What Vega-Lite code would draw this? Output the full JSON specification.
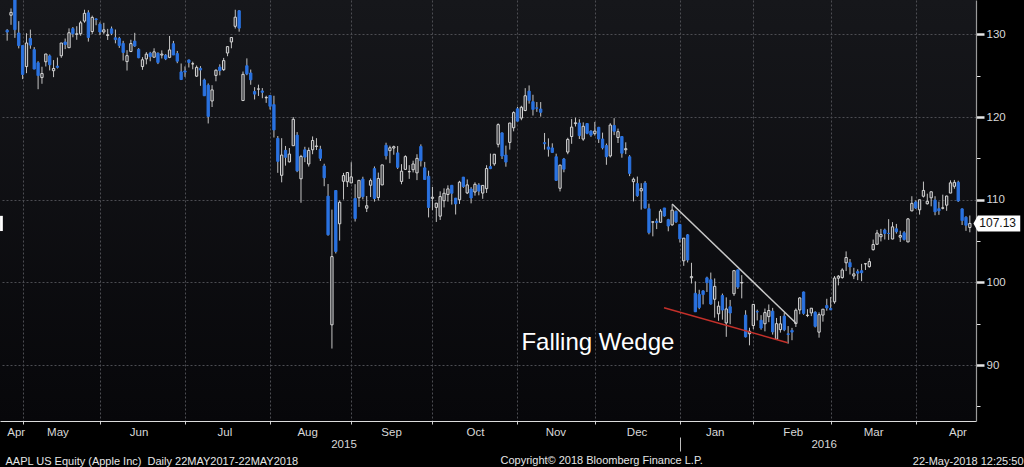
{
  "$schema": "https://vega.github.io/schema/vega-lite/v6.json",
  "width": 976,
  "height": 421,
  "padding": {"left": 0, "top": 0, "right": 48, "bottom": 46},
  "autosize": {"type": "none"},
  "background": "#000000",
  "config": {
    "view": {"stroke": null, "fill": {"gradient": "linear", "x1": 0, "y1": 0, "x2": 0, "y2": 1, "stops": [{"offset": 0, "color": "#16171b"}, {"offset": 1, "color": "#07070a"}]}},
    "font": "Liberation Sans"
  },
  "datasets": {
    "candles": [
{"i":0,"o":130.49,"h":130.63,"l":129.23,"c":130.28},
{"i":1,"o":132.31,"h":133.13,"l":131.15,"c":132.65},
{"i":2,"o":134.46,"h":134.54,"l":129.57,"c":130.56},
{"i":3,"o":130.16,"h":131.59,"l":128.30,"c":128.64},
{"i":4,"o":128.64,"h":128.64,"l":124.58,"c":125.15},
{"i":5,"o":126.10,"h":130.13,"l":125.30,"c":128.95},
{"i":6,"o":129.50,"h":130.57,"l":128.26,"c":128.70},
{"i":7,"o":128.15,"h":128.45,"l":125.78,"c":125.80},
{"i":8,"o":126.56,"h":126.75,"l":123.36,"c":125.01},
{"i":9,"o":124.77,"h":126.08,"l":124.02,"c":125.26},
{"i":10,"o":126.68,"h":127.62,"l":126.11,"c":127.62},
{"i":11,"o":127.39,"h":127.56,"l":125.63,"c":126.32},
{"i":12,"o":125.60,"h":126.88,"l":124.82,"c":125.87},
{"i":13,"o":126.15,"h":127.19,"l":125.87,"c":126.01},
{"i":14,"o":127.41,"h":128.95,"l":127.16,"c":128.95},
{"i":15,"o":129.07,"h":129.49,"l":128.21,"c":128.77},
{"i":16,"o":128.38,"h":130.72,"l":128.36,"c":130.19},
{"i":17,"o":130.69,"h":130.88,"l":129.64,"c":130.07},
{"i":18,"o":130.00,"h":130.98,"l":129.34,"c":130.06},
{"i":19,"o":130.07,"h":131.63,"l":129.83,"c":131.39},
{"i":20,"o":131.60,"h":132.97,"l":131.40,"c":132.54},
{"i":21,"o":132.60,"h":132.91,"l":129.12,"c":129.62},
{"i":22,"o":130.34,"h":132.26,"l":130.05,"c":132.04},
{"i":23,"o":131.86,"h":131.95,"l":131.10,"c":131.78},
{"i":24,"o":131.23,"h":131.45,"l":129.90,"c":130.28},
{"i":25,"o":130.28,"h":131.39,"l":130.05,"c":130.54},
{"i":26,"o":129.86,"h":130.66,"l":129.32,"c":129.96},
{"i":27,"o":130.66,"h":130.94,"l":129.90,"c":130.12},
{"i":28,"o":129.58,"h":130.58,"l":128.91,"c":129.36},
{"i":29,"o":129.50,"h":129.69,"l":128.36,"c":128.65},
{"i":30,"o":128.90,"h":129.21,"l":126.83,"c":127.80},
{"i":31,"o":126.70,"h":128.08,"l":125.62,"c":127.42},
{"i":32,"o":127.92,"h":129.34,"l":127.85,"c":128.88},
{"i":33,"o":129.18,"h":130.18,"l":128.48,"c":128.59},
{"i":34,"o":128.19,"h":128.33,"l":127.11,"c":127.17},
{"i":35,"o":126.10,"h":127.24,"l":125.71,"c":126.92},
{"i":36,"o":127.03,"h":127.85,"l":126.37,"c":127.60},
{"i":37,"o":127.72,"h":127.88,"l":126.74,"c":127.30},
{"i":38,"o":127.23,"h":128.31,"l":127.22,"c":127.88},
{"i":39,"o":127.71,"h":127.82,"l":126.40,"c":126.60},
{"i":40,"o":127.49,"h":128.06,"l":127.08,"c":127.61},
{"i":41,"o":127.48,"h":127.61,"l":126.88,"c":127.03},
{"i":42,"o":127.21,"h":129.80,"l":127.12,"c":128.11},
{"i":43,"o":128.86,"h":129.20,"l":127.50,"c":127.50},
{"i":44,"o":127.67,"h":127.99,"l":126.51,"c":126.75},
{"i":45,"o":125.46,"h":126.47,"l":124.48,"c":124.53},
{"i":46,"o":125.57,"h":126.12,"l":124.86,"c":125.43},
{"i":47,"o":126.90,"h":126.94,"l":125.99,"c":126.60},
{"i":48,"o":126.43,"h":126.69,"l":125.77,"c":126.44},
{"i":49,"o":124.94,"h":126.23,"l":124.85,"c":126.00},
{"i":50,"o":125.89,"h":126.15,"l":123.77,"c":125.69},
{"i":51,"o":124.48,"h":124.64,"l":122.54,"c":122.57},
{"i":52,"o":123.85,"h":124.06,"l":119.22,"c":120.07},
{"i":53,"o":121.94,"h":123.85,"l":121.21,"c":123.28},
{"i":54,"o":125.03,"h":125.76,"l":124.32,"c":125.66},
{"i":55,"o":126.04,"h":126.37,"l":125.04,"c":125.61},
{"i":56,"o":125.72,"h":127.15,"l":125.58,"c":126.82},
{"i":57,"o":127.74,"h":128.57,"l":127.35,"c":128.51},
{"i":58,"o":129.08,"h":129.62,"l":128.31,"c":129.62},
{"i":59,"o":130.97,"h":132.97,"l":130.70,"c":132.07},
{"i":60,"o":132.85,"h":132.92,"l":130.32,"c":130.75},
{"i":61,"o":121.99,"h":125.50,"l":121.99,"c":125.16},
{"i":62,"o":126.20,"h":127.09,"l":125.06,"c":125.22},
{"i":63,"o":125.32,"h":125.74,"l":123.90,"c":124.50},
{"i":64,"o":123.09,"h":123.61,"l":122.12,"c":122.77},
{"i":65,"o":123.38,"h":123.91,"l":122.55,"c":123.38},
{"i":66,"o":123.15,"h":123.50,"l":122.27,"c":122.99},
{"i":67,"o":122.32,"h":122.57,"l":121.71,"c":122.37},
{"i":68,"o":122.60,"h":122.64,"l":120.91,"c":121.30},
{"i":69,"o":121.50,"h":122.57,"l":117.52,"c":118.44},
{"i":70,"o":117.42,"h":117.70,"l":113.25,"c":114.64},
{"i":71,"o":112.95,"h":117.44,"l":112.10,"c":115.40},
{"i":72,"o":115.97,"h":116.50,"l":114.12,"c":115.13},
{"i":73,"o":114.58,"h":116.25,"l":114.50,"c":115.52},
{"i":74,"o":116.53,"h":119.99,"l":116.53,"c":119.72},
{"i":75,"o":117.81,"h":118.18,"l":113.33,"c":113.49},
{"i":76,"o":112.53,"h":115.42,"l":109.63,"c":115.24},
{"i":77,"o":116.04,"h":116.40,"l":114.54,"c":115.15},
{"i":78,"o":114.32,"h":116.31,"l":114.01,"c":115.96},
{"i":79,"o":116.04,"h":117.65,"l":115.50,"c":117.16},
{"i":80,"o":116.43,"h":117.44,"l":116.01,"c":116.50},
{"i":81,"o":116.10,"h":116.52,"l":114.68,"c":115.01},
{"i":82,"o":114.08,"h":114.35,"l":111.63,"c":112.65},
{"i":83,"o":110.43,"h":111.90,"l":105.65,"c":105.76},
{"i":84,"o":94.87,"h":108.80,"l":92.00,"c":103.12},
{"i":85,"o":111.11,"h":111.11,"l":103.50,"c":103.74},
{"i":86,"o":107.09,"h":109.89,"l":105.05,"c":109.69},
{"i":87,"o":112.23,"h":113.24,"l":110.02,"c":112.92},
{"i":88,"o":112.17,"h":113.31,"l":111.54,"c":113.29},
{"i":89,"o":112.03,"h":114.53,"l":112.00,"c":112.76},
{"i":90,"o":110.15,"h":111.88,"l":107.36,"c":107.72},
{"i":91,"o":110.23,"h":112.34,"l":109.13,"c":112.34},
{"i":92,"o":112.49,"h":112.78,"l":110.04,"c":110.37},
{"i":93,"o":108.97,"h":110.45,"l":108.51,"c":109.27},
{"i":94,"o":111.75,"h":112.56,"l":110.32,"c":112.31},
{"i":95,"o":113.76,"h":114.02,"l":109.77,"c":110.15},
{"i":96,"o":110.27,"h":113.28,"l":109.90,"c":112.57},
{"i":97,"o":111.79,"h":114.21,"l":111.76,"c":114.21},
{"i":98,"o":116.58,"h":116.89,"l":114.86,"c":115.31},
{"i":99,"o":115.93,"h":116.53,"l":114.42,"c":116.28},
{"i":100,"o":116.25,"h":116.54,"l":115.44,"c":116.41},
{"i":101,"o":115.66,"h":116.49,"l":113.72,"c":113.92},
{"i":102,"o":112.21,"h":114.30,"l":111.87,"c":113.45},
{"i":103,"o":113.67,"h":115.37,"l":113.66,"c":115.21},
{"i":104,"o":113.38,"h":114.18,"l":112.52,"c":113.40},
{"i":105,"o":113.63,"h":114.72,"l":113.30,"c":114.32},
{"i":106,"o":113.25,"h":115.50,"l":112.37,"c":115.00},
{"i":107,"o":116.44,"h":116.69,"l":114.02,"c":114.71},
{"i":108,"o":113.85,"h":114.57,"l":112.44,"c":112.44},
{"i":109,"o":112.83,"h":113.51,"l":107.86,"c":109.06},
{"i":110,"o":110.17,"h":111.54,"l":108.73,"c":110.30},
{"i":111,"o":109.07,"h":109.62,"l":107.31,"c":109.58},
{"i":112,"o":108.01,"h":111.01,"l":107.55,"c":110.38},
{"i":113,"o":109.88,"h":111.37,"l":109.07,"c":110.78},
{"i":114,"o":110.63,"h":111.74,"l":109.77,"c":111.31},
{"i":115,"o":111.74,"h":111.77,"l":109.41,"c":110.78},
{"i":116,"o":110.19,"h":110.19,"l":108.21,"c":109.50},
{"i":117,"o":110.00,"h":112.28,"l":109.49,"c":112.12},
{"i":118,"o":112.73,"h":112.75,"l":111.44,"c":111.60},
{"i":119,"o":110.82,"h":112.45,"l":110.68,"c":111.79},
{"i":120,"o":111.29,"h":111.52,"l":109.56,"c":110.21},
{"i":121,"o":110.93,"h":112.10,"l":110.49,"c":111.86},
{"i":122,"o":111.78,"h":112.00,"l":110.53,"c":111.04},
{"i":123,"o":110.80,"h":111.75,"l":110.11,"c":111.73},
{"i":124,"o":111.34,"h":114.17,"l":110.82,"c":113.77},
{"i":125,"o":114.00,"h":115.58,"l":113.70,"c":113.76},
{"i":126,"o":114.33,"h":115.50,"l":114.10,"c":115.50},
{"i":127,"o":116.70,"h":119.23,"l":116.33,"c":119.08},
{"i":128,"o":118.08,"h":118.13,"l":114.92,"c":115.28},
{"i":129,"o":115.40,"h":116.54,"l":113.99,"c":114.55},
{"i":130,"o":116.93,"h":119.30,"l":116.06,"c":119.27},
{"i":131,"o":118.70,"h":120.69,"l":118.27,"c":120.53},
{"i":132,"o":120.99,"h":121.22,"l":119.45,"c":119.50},
{"i":133,"o":119.87,"h":121.36,"l":119.61,"c":121.18},
{"i":134,"o":120.79,"h":123.49,"l":120.70,"c":122.57},
{"i":135,"o":123.13,"h":123.82,"l":121.62,"c":122.00},
{"i":136,"o":121.85,"h":122.69,"l":120.18,"c":120.92},
{"i":137,"o":121.11,"h":121.81,"l":120.62,"c":121.06},
{"i":138,"o":120.96,"h":121.81,"l":120.05,"c":120.57},
{"i":139,"o":116.90,"h":118.07,"l":116.06,"c":116.77},
{"i":140,"o":116.37,"h":117.42,"l":115.21,"c":116.11},
{"i":141,"o":116.26,"h":116.82,"l":115.65,"c":115.72},
{"i":142,"o":115.20,"h":115.57,"l":112.27,"c":112.34},
{"i":143,"o":111.38,"h":114.24,"l":111.00,"c":114.18},
{"i":144,"o":114.92,"h":115.05,"l":113.32,"c":113.69},
{"i":145,"o":115.76,"h":117.49,"l":115.50,"c":117.29},
{"i":146,"o":117.64,"h":119.75,"l":116.76,"c":118.78},
{"i":147,"o":119.20,"h":119.92,"l":118.85,"c":119.30},
{"i":148,"o":119.27,"h":119.73,"l":117.34,"c":117.75},
{"i":149,"o":117.33,"h":119.35,"l":117.12,"c":118.88},
{"i":150,"o":119.21,"h":119.23,"l":117.92,"c":118.03},
{"i":151,"o":118.29,"h":118.41,"l":117.60,"c":117.81},
{"i":152,"o":117.99,"h":119.41,"l":117.75,"c":118.30},
{"i":153,"o":118.75,"h":118.81,"l":116.86,"c":117.34},
{"i":154,"o":117.34,"h":118.11,"l":116.08,"c":116.28},
{"i":155,"o":116.55,"h":116.79,"l":114.22,"c":115.20},
{"i":156,"o":115.29,"h":119.25,"l":115.11,"c":119.03},
{"i":157,"o":118.98,"h":119.86,"l":117.81,"c":118.28},
{"i":158,"o":117.52,"h":118.60,"l":116.86,"c":118.23},
{"i":159,"o":117.64,"h":117.69,"l":115.08,"c":115.62},
{"i":160,"o":116.04,"h":116.94,"l":115.51,"c":116.17},
{"i":161,"o":115.19,"h":115.39,"l":112.85,"c":113.18},
{"i":162,"o":112.18,"h":112.68,"l":109.79,"c":112.48},
{"i":163,"o":111.94,"h":112.80,"l":110.35,"c":110.49},
{"i":164,"o":111.07,"h":111.99,"l":108.80,"c":111.34},
{"i":165,"o":112.02,"h":112.25,"l":108.98,"c":108.98},
{"i":166,"o":108.91,"h":109.52,"l":105.81,"c":106.03},
{"i":167,"o":107.28,"h":107.37,"l":105.57,"c":107.33},
{"i":168,"o":107.40,"h":107.72,"l":106.45,"c":107.23},
{"i":169,"o":107.27,"h":108.85,"l":107.20,"c":108.61},
{"i":170,"o":109.00,"h":109.00,"l":107.95,"c":108.03},
{"i":171,"o":107.59,"h":107.69,"l":106.18,"c":106.82},
{"i":172,"o":106.96,"h":109.43,"l":106.86,"c":108.74},
{"i":173,"o":108.58,"h":108.70,"l":107.18,"c":107.32},
{"i":174,"o":107.01,"h":107.03,"l":104.82,"c":105.26},
{"i":175,"o":102.61,"h":105.37,"l":102.00,"c":105.35},
{"i":176,"o":105.75,"h":105.85,"l":102.41,"c":102.71},
{"i":177,"o":100.56,"h":102.37,"l":99.87,"c":100.70},
{"i":178,"o":98.68,"h":100.13,"l":96.43,"c":96.45},
{"i":179,"o":98.55,"h":99.11,"l":96.76,"c":96.96},
{"i":180,"o":98.97,"h":99.06,"l":97.34,"c":98.53},
{"i":181,"o":100.55,"h":100.69,"l":98.84,"c":99.96},
{"i":182,"o":100.32,"h":101.19,"l":97.30,"c":97.39},
{"i":183,"o":97.96,"h":100.48,"l":95.74,"c":99.52},
{"i":184,"o":96.20,"h":97.71,"l":95.36,"c":97.13},
{"i":185,"o":98.41,"h":98.65,"l":95.50,"c":96.66},
{"i":186,"o":95.10,"h":98.19,"l":93.42,"c":96.79},
{"i":187,"o":97.06,"h":97.88,"l":94.94,"c":96.30},
{"i":188,"o":98.63,"h":101.46,"l":98.37,"c":101.42},
{"i":189,"o":101.52,"h":101.53,"l":99.21,"c":99.44},
{"i":190,"o":99.93,"h":100.88,"l":98.07,"c":99.99},
{"i":191,"o":96.04,"h":96.63,"l":93.34,"c":93.42},
{"i":192,"o":93.79,"h":94.52,"l":92.39,"c":94.09},
{"i":193,"o":94.79,"h":97.34,"l":94.35,"c":97.34},
{"i":194,"o":96.47,"h":96.71,"l":95.40,"c":96.43},
{"i":195,"o":95.42,"h":96.04,"l":94.28,"c":94.48},
{"i":196,"o":95.00,"h":96.84,"l":94.08,"c":96.35},
{"i":197,"o":95.86,"h":97.33,"l":95.19,"c":96.60},
{"i":198,"o":96.52,"h":96.92,"l":93.69,"c":94.02},
{"i":199,"o":93.13,"h":95.70,"l":93.04,"c":95.01},
{"i":200,"o":94.29,"h":95.94,"l":93.93,"c":94.99},
{"i":201,"o":95.92,"h":96.35,"l":94.10,"c":94.27},
{"i":202,"o":93.79,"h":94.72,"l":92.59,"c":93.70},
{"i":203,"o":94.19,"h":94.50,"l":93.01,"c":93.99},
{"i":204,"o":95.02,"h":96.85,"l":94.61,"c":96.64},
{"i":205,"o":96.67,"h":98.21,"l":96.15,"c":98.12},
{"i":206,"o":98.84,"h":98.89,"l":96.09,"c":96.26},
{"i":207,"o":96.00,"h":96.76,"l":95.80,"c":96.04},
{"i":208,"o":96.31,"h":96.90,"l":95.92,"c":96.88},
{"i":209,"o":96.40,"h":96.50,"l":94.55,"c":94.69},
{"i":210,"o":93.98,"h":96.38,"l":93.32,"c":96.10},
{"i":211,"o":96.05,"h":96.76,"l":95.25,"c":96.76},
{"i":212,"o":97.20,"h":98.02,"l":96.58,"c":96.91},
{"i":213,"o":96.86,"h":98.23,"l":96.65,"c":96.69},
{"i":214,"o":97.65,"h":100.77,"l":97.42,"c":100.53},
{"i":215,"o":100.51,"h":100.89,"l":99.64,"c":100.75},
{"i":216,"o":100.58,"h":101.71,"l":100.45,"c":101.50},
{"i":217,"o":102.37,"h":103.75,"l":101.37,"c":103.01},
{"i":218,"o":102.39,"h":102.83,"l":100.96,"c":101.87},
{"i":219,"o":100.78,"h":101.76,"l":100.40,"c":101.03},
{"i":220,"o":101.31,"h":101.58,"l":100.27,"c":101.12},
{"i":221,"o":101.41,"h":102.24,"l":100.15,"c":101.17},
{"i":222,"o":102.24,"h":102.28,"l":101.50,"c":102.26},
{"i":223,"o":101.91,"h":102.91,"l":101.78,"c":102.52},
{"i":224,"o":103.96,"h":105.18,"l":103.85,"c":104.58},
{"i":225,"o":104.61,"h":106.35,"l":104.59,"c":105.97},
{"i":226,"o":105.52,"h":106.47,"l":104.96,"c":105.80},
{"i":227,"o":106.34,"h":106.50,"l":105.19,"c":105.92},
{"i":228,"o":105.93,"h":107.65,"l":105.14,"c":105.91},
{"i":229,"o":105.25,"h":107.29,"l":105.21,"c":106.72},
{"i":230,"o":106.48,"h":107.07,"l":105.90,"c":106.13},
{"i":231,"o":105.47,"h":106.25,"l":104.89,"c":105.67},
{"i":232,"o":106.00,"h":106.19,"l":105.06,"c":105.19},
{"i":233,"o":104.89,"h":107.79,"l":104.88,"c":107.68},
{"i":234,"o":108.65,"h":110.42,"l":108.60,"c":109.56},
{"i":235,"o":109.72,"h":109.90,"l":108.88,"c":108.99},
{"i":236,"o":108.78,"h":110.00,"l":108.20,"c":109.99},
{"i":237,"o":110.42,"h":112.19,"l":110.27,"c":111.12},
{"i":238,"o":109.51,"h":110.73,"l":109.42,"c":109.81},
{"i":239,"o":110.23,"h":110.98,"l":109.20,"c":110.96},
{"i":240,"o":109.95,"h":110.42,"l":108.12,"c":108.54},
{"i":241,"o":108.91,"h":109.77,"l":108.17,"c":108.66},
{"i":242,"o":108.97,"h":110.61,"l":108.83,"c":109.02},
{"i":243,"o":109.34,"h":110.50,"l":108.66,"c":110.44},
{"i":244,"o":110.80,"h":112.34,"l":110.80,"c":112.04},
{"i":245,"o":111.62,"h":112.39,"l":111.33,"c":112.10},
{"i":246,"o":112.11,"h":112.30,"l":109.73,"c":109.85},
{"i":247,"o":108.89,"h":108.95,"l":106.94,"c":107.48},
{"i":248,"o":107.88,"h":108.00,"l":106.23,"c":106.91},
{"i":249,"o":106.64,"h":108.09,"l":106.06,"c":107.13}
    ],
    "trend": [
      {"line": "upper", "i1": 172, "v1": 109.48, "i2": 204, "v2": 95.09},
      {"line": "lower", "i1": 169.9, "v1": 96.94, "i2": 201.9, "v2": 92.71}
    ],
    "note": [
      {"i": 152.8, "v": 91.83, "label": "Falling Wedge"}
    ]
  },
  "resolve": {"axis": {"x": "independent"}},
  "layer": [
    {
      "data": {"name": "candles"},
      "mark": {"type": "rule", "strokeWidth": 1, "color": "#c4c4c4"},
      "encoding": {
        "x": {
          "field": "i", "type": "quantitative",
          "scale": {"domain": [-0.56, 249.3], "nice": false, "zero": false},
          "axis": {
            "orient": "bottom",
            "values": [4, 24, 46, 68, 89, 110, 132, 152, 174, 193, 213, 235],
            "labels": false, "grid": true, "gridColor": "#4c4d52", "gridDash": [2, 2], "gridWidth": 1,
            "tickSize": 3, "tickColor": "#d0d0d0", "domainColor": "#dcdcdc", "domainWidth": 1,
            "title": "22-May-2018 12:25:50", "titleX": 1023, "titleY": 43, "titleAlign": "right",
            "titleBaseline": "alphabetic", "titleFont": "Liberation Sans", "titleFontSize": 11,
            "titleFontWeight": "normal", "titleColor": "#e6e6e6", "titlePadding": 0
          }
        },
        "y": {
          "field": "l", "type": "quantitative", "title": null,
          "scale": {"domain": [83.24, 134.15], "nice": false, "zero": false},
          "axis": {
            "orient": "right",
            "values": [85, 90, 95, 100, 105, 110, 115, 120, 125, 130],
            "labelExpr": "datum.value % 10 === 0 ? datum.label : ''",
            "grid": true, "gridColor": "#4c4d52", "gridDash": [2, 2],
            "gridOpacity": {"condition": {"test": "datum.value % 10 === 0", "value": 1}, "value": 0},
            "tickColor": "#e6e6e6",
            "tickSize": {"condition": {"test": "datum.value % 10 === 0", "value": 8}, "value": 4},
            "tickWidth": {"condition": {"test": "datum.value % 10 === 0", "value": 2.5}, "value": 1},
            "labelColor": "#d8d8d8", "labelFont": "Liberation Sans", "labelFontSize": 11.5,
            "labelPadding": 2, "labelFlush": false, "labelOverlap": false, "labelBound": false,
            "domainColor": "#9a9a9a", "domainWidth": 1.2
          }
        },
        "y2": {"field": "h"}
      }
    },
    {
      "data": {"name": "candles"},
      "mark": {"type": "bar", "size": 2.3, "strokeWidth": 1},
      "encoding": {
        "x": {
          "field": "i", "type": "quantitative",
          "axis": {
            "orient": "bottom",
            "values": [2.2, 13, 34, 56.2, 77.6, 99.3, 121, 141.8, 162.8, 183, 203.2, 224, 245.8],
            "labelExpr": "['Apr','May','Jun','Jul','Aug','Sep','Oct','Nov','Dec','Jan','Feb','Mar','Apr'][indexof([2.2,13,34,56.2,77.6,99.3,121,141.8,162.8,183,203.2,224,245.8], datum.value)]",
            "ticks": false, "domain": false, "grid": false,
            "labelPadding": 5, "labelColor": "#d8d8d8", "labelFont": "Liberation Sans", "labelFontSize": 11.5,
            "labelFlush": false, "labelOverlap": false, "labelBound": false,
            "title": "AAPL US Equity (Apple Inc)\u00a0 Daily 22MAY2017-22MAY2018",
            "titleX": 5, "titleY": 43, "titleAlign": "left", "titleBaseline": "alphabetic",
            "titleFont": "Liberation Sans", "titleFontSize": 11, "titleFontWeight": "normal",
            "titleColor": "#e6e6e6", "titlePadding": 0
          }
        },
        "y": {"field": "o", "type": "quantitative", "title": null},
        "y2": {"field": "c"},
        "fill": {"condition": {"test": "datum.c < datum.o", "value": "#2a72e0"}, "value": "#2c2d32"},
        "stroke": {"condition": {"test": "datum.c < datum.o", "value": "#2a72e0"}, "value": "#d6d6d6"}
      }
    },
    {
      "data": {"name": "trend"},
      "mark": {"type": "rule", "strokeWidth": 1.5},
      "encoding": {
        "x": {
          "field": "i1", "type": "quantitative",
          "axis": {
            "orient": "bottom",
            "offset": 16,
            "values": [87, 174, 211.2],
            "labelExpr": "datum.value == 87 ? '2015' : (datum.value > 200 ? '2016' : '')",
            "tickSize": 14, "tickColor": "#bdbdbd",
            "tickOpacity": {"condition": {"test": "datum.value == 174", "value": 1}, "value": 0},
            "domain": false, "grid": false,
            "labelPadding": -13, "labelColor": "#d8d8d8", "labelFont": "Liberation Sans", "labelFontSize": 11.5,
            "labelFlush": false, "labelOverlap": false, "labelBound": false,
            "title": "Copyright\u00a9 2018 Bloomberg Finance L.P.",
            "titleX": 500, "titleY": 26.5, "titleAlign": "left", "titleBaseline": "alphabetic",
            "titleFont": "Liberation Sans", "titleFontSize": 11, "titleFontWeight": "normal",
            "titleColor": "#e6e6e6", "titlePadding": 0
          }
        },
        "x2": {"field": "i2"},
        "y": {"field": "v1", "type": "quantitative", "title": null},
        "y2": {"field": "v2"},
        "color": {
          "field": "line", "type": "nominal", "legend": null,
          "scale": {"domain": ["upper", "lower"], "range": ["#c8c8c8", "#c4302a"]}
        }
      }
    },
    {
      "data": {"name": "note"},
      "mark": {"type": "text", "align": "center", "baseline": "alphabetic", "font": "Liberation Sans", "fontSize": 24, "color": "#ffffff"},
      "encoding": {
        "x": {"field": "i", "type": "quantitative", "axis": null},
        "y": {"field": "v", "type": "quantitative", "title": null},
        "text": {"field": "label"}
      }
    },
    {
      "data": {"name": "candles"},
      "transform": [{"filter": "datum.i == 249"}],
      "mark": {"type": "point", "shape": "M0.45,0L1,-1L6.3,-1L6.3,1L1,1Z", "size": 256, "filled": true, "color": "#ffffff", "opacity": 1, "strokeWidth": 0},
      "encoding": {
        "x": {"field": "i", "type": "quantitative", "axis": null},
        "y": {"field": "c", "type": "quantitative", "title": null}
      }
    },
    {
      "data": {"name": "candles"},
      "transform": [{"filter": "datum.i == 249"}],
      "mark": {"type": "point", "shape": "M-0.62,-0.95L-0.27,-0.95L-0.27,0.95L-0.62,0.95Z", "size": 256, "filled": true, "color": "#ffffff", "opacity": 1, "strokeWidth": 0},
      "encoding": {
        "x": {"datum": -0.56, "type": "quantitative", "axis": null},
        "y": {"field": "c", "type": "quantitative", "title": null}
      }
    },
    {
      "data": {"name": "candles"},
      "transform": [{"filter": "datum.i == 249"}],
      "mark": {"type": "text", "align": "left", "baseline": "middle", "dx": 9.5, "font": "Liberation Sans", "fontSize": 12, "color": "#111111"},
      "encoding": {
        "x": {"field": "i", "type": "quantitative", "axis": null},
        "y": {"field": "c", "type": "quantitative", "title": null},
        "text": {"field": "c", "type": "quantitative", "format": ".2f"}
      }
    }
  ]
}
